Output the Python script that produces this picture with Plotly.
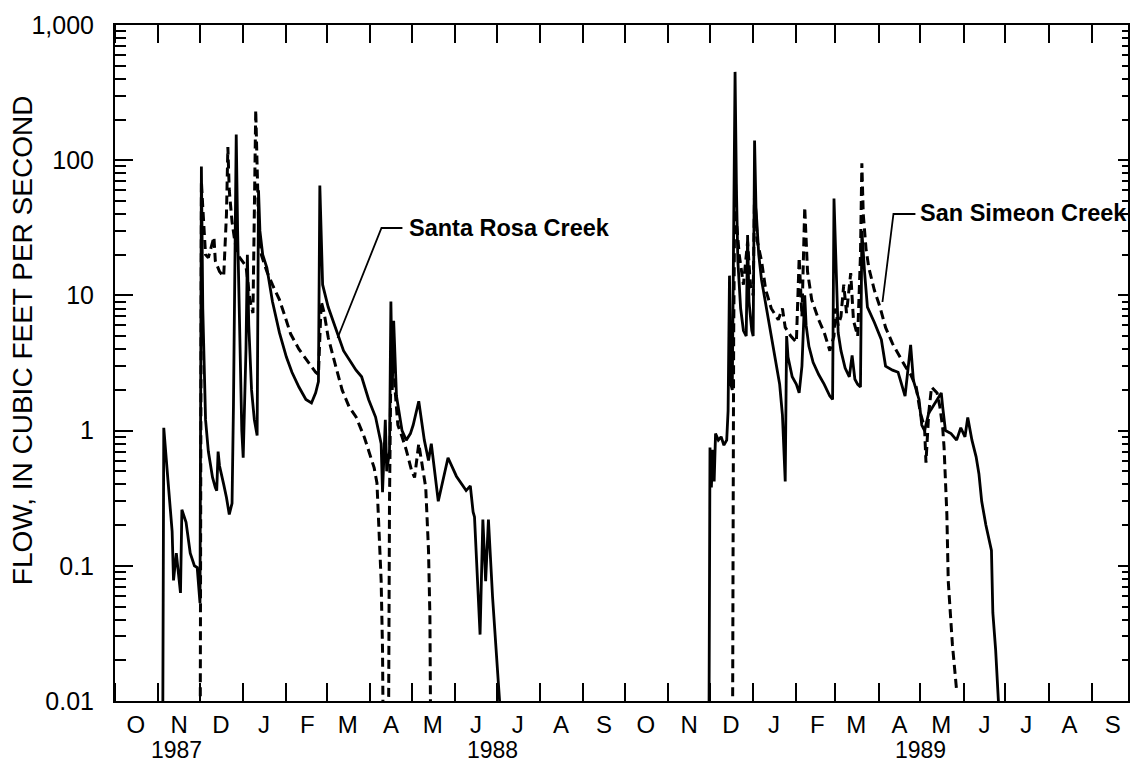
import plotly.graph_objects as go

Z = 0.001  # zero flow: drawn below the 0.01 floor of the log axis

# ---------------- Santa Rosa Creek (solid) ----------------
SR_1988_DATES = ["1987-11-04", "1987-11-05", "1987-11-08", "1987-11-11", "1987-11-12", "1987-11-14",
                 "1987-11-17", "1987-11-18", "1987-11-21", "1987-11-24", "1987-11-27", "1987-11-29",
                 "1987-12-01", "1987-12-02", "1987-12-03", "1987-12-04", "1987-12-05", "1987-12-07",
                 "1987-12-09", "1987-12-10", "1987-12-12", "1987-12-13", "1987-12-14", "1987-12-15",
                 "1987-12-18", "1987-12-20", "1987-12-22", "1987-12-24", "1987-12-25", "1987-12-26",
                 "1987-12-27", "1987-12-28", "1987-12-30", "1987-12-31", "1988-01-01", "1988-01-03",
                 "1988-01-04", "1988-01-05", "1988-01-07", "1988-01-09", "1988-01-11", "1988-01-12",
                 "1988-01-13", "1988-01-15", "1988-01-18", "1988-01-22", "1988-01-27", "1988-02-01",
                 "1988-02-05", "1988-02-10", "1988-02-15", "1988-02-19", "1988-02-22", "1988-02-24",
                 "1988-02-25", "1988-02-26", "1988-02-27", "1988-03-02", "1988-03-07", "1988-03-13",
                 "1988-03-22", "1988-03-26", "1988-03-31", "1988-04-05", "1988-04-09", "1988-04-10",
                 "1988-04-12", "1988-04-13", "1988-04-15", "1988-04-16", "1988-04-17", "1988-04-18",
                 "1988-04-20", "1988-04-22", "1988-04-24", "1988-04-27", "1988-04-30", "1988-05-02",
                 "1988-05-06", "1988-05-10", "1988-05-13", "1988-05-15", "1988-05-20", "1988-05-27",
                 "1988-06-02", "1988-06-09", "1988-06-12", "1988-06-14", "1988-06-15", "1988-06-19",
                 "1988-06-21", "1988-06-23", "1988-06-25", "1988-06-28", "1988-07-03", "1988-07-04"]
SR_1988_FLOW = [Z, 1.05, 0.43, 0.18, 0.078, 0.124,
                0.063, 0.26, 0.21, 0.124, 0.10, 0.097,
                0.053, 90, 8, 2.5, 1.2, 0.7,
                0.5, 0.45, 0.38, 0.36, 0.7, 0.55,
                0.4, 0.32, 0.24, 0.29, 1.5, 20,
                155, 30, 3, 1.0, 0.63, 4,
                20, 6, 2, 1.2, 0.92, 60,
                30, 20, 16, 9, 5.3, 3.5,
                2.7, 2.1, 1.7, 1.6, 1.9, 2.3,
                65, 25, 12, 8.2, 5.8, 3.9,
                2.8, 2.5, 1.7, 1.26, 0.8, 0.35,
                1.2, 0.5, 0.7, 9, 2, 6.5,
                1.8, 1.3, 1.0, 0.85, 0.95, 1.1,
                1.65, 0.85, 0.6, 0.8, 0.3, 0.63,
                0.46, 0.36, 0.39, 0.25, 0.23, 0.031,
                0.22, 0.077, 0.22, 0.058, 0.01, Z]

SR_1989_DATES = ["1988-11-30", "1988-12-01", "1988-12-02", "1988-12-03", "1988-12-04", "1988-12-05",
                 "1988-12-07", "1988-12-09", "1988-12-11", "1988-12-13", "1988-12-14", "1988-12-15",
                 "1988-12-16", "1988-12-17", "1988-12-18", "1988-12-19", "1988-12-20", "1988-12-21",
                 "1988-12-23", "1988-12-25", "1988-12-27", "1988-12-28", "1988-12-29", "1988-12-31",
                 "1989-01-01", "1989-01-02", "1989-01-03", "1989-01-05", "1989-01-07", "1989-01-10",
                 "1989-01-14", "1989-01-17", "1989-01-20", "1989-01-22", "1989-01-23", "1989-01-24",
                 "1989-01-25", "1989-01-26", "1989-01-29", "1989-02-01", "1989-02-03", "1989-02-05",
                 "1989-02-07", "1989-02-08", "1989-02-10", "1989-02-13", "1989-02-17", "1989-02-21",
                 "1989-02-25", "1989-02-27", "1989-02-28", "1989-03-02", "1989-03-03", "1989-03-05",
                 "1989-03-08", "1989-03-11", "1989-03-13", "1989-03-15", "1989-03-17", "1989-03-19",
                 "1989-03-20", "1989-03-22", "1989-03-24", "1989-03-29", "1989-04-03", "1989-04-06",
                 "1989-04-11", "1989-04-15", "1989-04-18", "1989-04-20", "1989-04-24", "1989-04-26",
                 "1989-04-30", "1989-05-02", "1989-05-04", "1989-05-07", "1989-05-09", "1989-05-13",
                 "1989-05-16", "1989-05-17", "1989-05-19", "1989-05-23", "1989-05-27", "1989-05-30",
                 "1989-06-02", "1989-06-04", "1989-06-07", "1989-06-10", "1989-06-12", "1989-06-14",
                 "1989-06-17", "1989-06-21", "1989-06-22", "1989-06-24", "1989-06-26", "1989-06-27"]
SR_1989_FLOW = [Z, 0.75, 0.38, 0.72, 0.42, 0.95,
                0.85, 0.9, 0.78, 0.85, 1.4, 14,
                2.2, 2.0, 30, 450, 60, 18,
                8, 5.5, 5, 28, 9, 5.5,
                5, 140, 45, 20, 13, 8.5,
                5, 3.3, 2.2, 1.3, 0.75, 0.42,
                5, 3.5, 2.5, 2.2, 1.9, 3,
                10, 6, 4.2, 3.2, 2.6, 2.2,
                1.8, 1.7, 52, 12, 5.3, 3.9,
                2.9, 2.5, 3.6, 2.4, 2.2, 2.1,
                30, 14.6, 8.2, 6.3, 4.7, 3.0,
                2.8, 2.7, 2.1, 1.8, 4.3, 2.35,
                1.7, 1.1, 1.0, 1.35, 1.45, 1.7,
                1.9, 1.5, 1.0, 0.95, 0.85, 1.05,
                0.9, 1.25, 0.85, 0.64, 0.48, 0.3,
                0.2, 0.13, 0.045, 0.024, 0.01, Z]

# ---------------- San Simeon Creek (dashed) ----------------
SS_1988_DATES = ["1987-12-01", "1987-12-02", "1987-12-03", "1987-12-04", "1987-12-05", "1987-12-07",
                 "1987-12-09", "1987-12-11", "1987-12-12", "1987-12-15", "1987-12-18", "1987-12-20",
                 "1987-12-21", "1987-12-22", "1987-12-24", "1987-12-26", "1987-12-28", "1987-12-31",
                 "1988-01-03", "1988-01-06", "1988-01-08", "1988-01-10", "1988-01-11", "1988-01-12",
                 "1988-01-14", "1988-01-18", "1988-01-22", "1988-01-27", "1988-02-01", "1988-02-04",
                 "1988-02-10", "1988-02-17", "1988-02-22", "1988-02-24", "1988-02-26", "1988-02-28",
                 "1988-03-02", "1988-03-07", "1988-03-12", "1988-03-17", "1988-03-22", "1988-03-28",
                 "1988-03-31", "1988-04-04", "1988-04-06", "1988-04-07", "1988-04-09", "1988-04-10",
                 "1988-04-11", "1988-04-14", "1988-04-15", "1988-04-16", "1988-04-17", "1988-04-19",
                 "1988-04-21", "1988-04-24", "1988-04-27", "1988-05-01", "1988-05-03", "1988-05-06",
                 "1988-05-08", "1988-05-11", "1988-05-13", "1988-05-14", "1988-05-15"]
SS_1988_FLOW = [Z, 70, 45, 28, 20, 19,
                23, 27, 18, 15, 13.8, 40,
                125, 60, 35, 25, 20, 18,
                16.5, 9, 7.4, 235, 80, 35,
                20, 15, 12, 9.3, 6.5, 5.2,
                4.0, 3.2, 2.7, 2.6, 9, 7.5,
                4.9, 3.1, 2.0, 1.5, 1.26, 0.89,
                0.72, 0.53, 0.41, 0.23, 0.078, 0.024,
                Z, Z, 0.3, 3, 6.5, 2,
                1.1, 0.9, 0.72, 0.5, 0.45, 0.8,
                0.6, 0.38, 0.13, 0.042, Z]

SS_1989_DATES = ["1988-12-17", "1988-12-18", "1988-12-19", "1988-12-20", "1988-12-22", "1988-12-25",
                 "1988-12-28", "1988-12-30", "1989-01-01", "1989-01-02", "1989-01-04", "1989-01-07",
                 "1989-01-10", "1989-01-14", "1989-01-19", "1989-01-22", "1989-01-24", "1989-01-28",
                 "1989-02-01", "1989-02-03", "1989-02-05", "1989-02-07", "1989-02-09", "1989-02-12",
                 "1989-02-17", "1989-02-21", "1989-02-25", "1989-02-28", "1989-03-01", "1989-03-03",
                 "1989-03-05", "1989-03-07", "1989-03-09", "1989-03-12", "1989-03-14", "1989-03-17",
                 "1989-03-19", "1989-03-20", "1989-03-21", "1989-03-23", "1989-03-25", "1989-03-29",
                 "1989-04-02", "1989-04-06", "1989-04-11", "1989-04-15", "1989-04-20", "1989-04-24",
                 "1989-04-28", "1989-05-01", "1989-05-04", "1989-05-05", "1989-05-07", "1989-05-09",
                 "1989-05-13", "1989-05-15", "1989-05-17", "1989-05-18", "1989-05-19", "1989-05-20",
                 "1989-05-21", "1989-05-24", "1989-05-27"]
SS_1989_FLOW = [Z, 5, 100, 35, 20, 12,
                25, 12, 10, 60, 25, 18,
                11, 8, 6.6, 8, 5.8, 5,
                4.5, 19, 7, 45, 15, 9.3,
                6.6, 5.3, 3.9, 5, 8, 6,
                7, 12, 7.4, 14.6, 6.5, 5,
                20, 95, 40, 22, 16, 10.9,
                8.2, 5.8, 4.4, 3.7, 3.0, 2.6,
                2.1, 1.35, 1.05, 0.58, 1.35, 2.1,
                1.9, 1.5, 1.05, 0.75, 0.43, 0.24,
                0.077, 0.026, 0.012]

MONTH_LETTERS = ["O", "N", "D", "J", "F", "M", "A", "M", "J", "J", "A", "S"] * 2
YEAR_LABELS = ["1987", "1988", "1989"]
YEAR_LABEL_DATES = ["1987-11-14", "1988-06-28", "1989-05-01"]
Y_TICK_VALUES = [0.01, 0.1, 1, 10, 100, 1000]
Y_TICK_TEXT = ["0.01", "0.1", "1", "10", "100", "1,000"]

# ---------------- axis helpers ----------------
month_starts = []
month_mids = []
for i in range(24):
    y = 1987 + (9 + i) // 12
    m = (9 + i) % 12 + 1
    month_starts.append(f"{y}-{m:02d}-01")
    month_mids.append(f"{y}-{m:02d}-16")
minor_y = [k * d for d in [0.01, 0.1, 1, 10, 100] for k in range(2, 10)]

# plot-area geometry (pixels) used to place annotations in paper coords
W, H = 1133, 764
L, R, T, B = 115, 1130, 25, 701


def px(x):
    return (x - L) / (R - L)


def py(y):
    return (B - y) / (B - T)


sr_x = SR_1988_DATES + [None] + SR_1989_DATES
sr_y = SR_1988_FLOW + [None] + SR_1989_FLOW
ss_x = SS_1988_DATES + [None] + SS_1989_DATES
ss_y = SS_1988_FLOW + [None] + SS_1989_FLOW

fig = go.Figure()
fig.add_trace(go.Scatter(x=ss_x, y=ss_y, mode="lines", name="San Simeon Creek",
                         line=dict(color="black", width=3, dash="9px,5px"),
                         connectgaps=False, hoverinfo="skip"))
fig.add_trace(go.Scatter(x=sr_x, y=sr_y, mode="lines", name="Santa Rosa Creek",
                         line=dict(color="black", width=2.8),
                         connectgaps=False, hoverinfo="skip"))
# carrier for the right-hand tick axis
fig.add_trace(go.Scatter(x=[month_starts[0]], y=[None], yaxis="y2", mode="lines",
                         showlegend=False, hoverinfo="skip"))

font_main = "Liberation Sans, Arial, Helvetica, sans-serif"

fig.update_layout(
    width=W, height=H,
    margin=dict(l=L, r=W - R, t=T, b=H - B),
    paper_bgcolor="white", plot_bgcolor="white",
    showlegend=False,
    font=dict(family=font_main, color="black", size=24),
    xaxis=dict(
        type="date", range=["1987-10-01", "1989-09-27"],
        tickmode="array", tickvals=month_mids, ticktext=MONTH_LETTERS,
        ticks="", showgrid=False, zeroline=False,
        showline=True, linecolor="black", linewidth=2, mirror="ticks",
        tickfont=dict(size=24, family=font_main),
        ticklabelstandoff=1,
        minor=dict(tickmode="array", tickvals=month_starts, ticks="inside",
                   ticklen=18, tickwidth=1.5, tickcolor="black", showgrid=False),
    ),
    yaxis=dict(
        type="log", range=[-2, 3],
        tickmode="array", tickvals=Y_TICK_VALUES, ticktext=Y_TICK_TEXT,
        ticks="inside", ticklen=18, tickwidth=1.5, tickcolor="black",
        showgrid=False, zeroline=False,
        showline=True, linecolor="black", linewidth=2, mirror=True,
        tickfont=dict(size=25, family=font_main),
        ticklabelstandoff=14,
        minor=dict(tickmode="array", tickvals=minor_y, ticks="inside",
                   ticklen=11, tickwidth=1.5, tickcolor="black", showgrid=False),
    ),
    yaxis2=dict(
        type="log", range=[-2, 3], overlaying="y", side="right",
        tickmode="array", tickvals=Y_TICK_VALUES, showticklabels=False,
        ticks="inside", ticklen=10, tickwidth=1.5, tickcolor="black",
        showgrid=False, zeroline=False, showline=False,
        minor=dict(tickmode="array", tickvals=minor_y, ticks="inside",
                   ticklen=6, tickwidth=1.5, tickcolor="black", showgrid=False),
    ),
)

annotations = [
    dict(text="FLOW, IN CUBIC FEET PER SECOND", textangle=-90,
         xref="paper", yref="paper", x=px(22), y=py(340),
         xanchor="center", yanchor="middle", showarrow=False,
         font=dict(size=28, family=font_main)),
    dict(text="<b>Santa Rosa Creek</b>", xref="paper", yref="paper",
         x=px(408), y=py(228), xanchor="left", yanchor="middle", showarrow=False,
         font=dict(size=23.5, family=font_main)),
    dict(text="<b>San Simeon Creek</b>", xref="paper", yref="paper",
         x=px(920), y=py(213), xanchor="left", yanchor="middle", showarrow=False,
         font=dict(size=23.5, family=font_main)),
]
for label, d in zip(YEAR_LABELS, YEAR_LABEL_DATES):
    annotations.append(dict(text=label, xref="x", yref="paper", x=d, y=py(750),
                            xanchor="center", yanchor="middle", showarrow=False,
                            font=dict(size=23, family=font_main)))
fig.update_layout(annotations=annotations)

# leader lines for the creek labels
fig.add_shape(type="path", xref="paper", yref="paper",
              path=f"M {px(403)} {py(228)} L {px(382)} {py(228)} L {px(338)} {py(338)}",
              line=dict(color="black", width=1.8))
fig.add_shape(type="path", xref="paper", yref="paper",
              path=f"M {px(917)} {py(214)} L {px(895)} {py(214)} L {px(884)} {py(302)}",
              line=dict(color="black", width=1.8))

fig.write_html("out.html", config={"displayModeBar": False},
               post_script="document.body.style.margin='0';document.body.style.overflow='hidden';")
